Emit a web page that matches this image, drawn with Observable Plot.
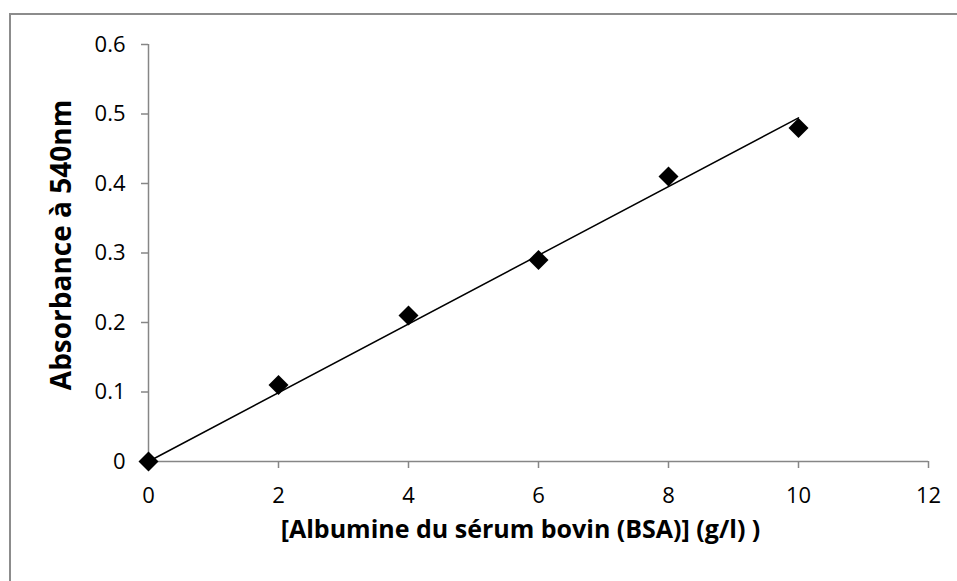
<!DOCTYPE html>
<html>
<head>
<meta charset="utf-8">
<script src="https://cdn.jsdelivr.net/npm/d3@7"></script>
<script src="https://cdn.jsdelivr.net/npm/@observablehq/plot@0.6"></script>
<style>
  html, body { margin: 0; padding: 0; background: white; }
  #wrap { position: relative; width: 957px; height: 581px; overflow: hidden; }
  #border { position: absolute; left: 9px; top: 13px; width: 2000px; height: 2000px;
            border-left: 2px solid #8c8c8c; border-top: 2px solid #8c8c8c; pointer-events: none; z-index: 2; }
  #chart { position: absolute; left: 0; top: 0; }
</style>
</head>
<body>
<div id="wrap"><div id="chart"></div><div id="border"></div></div>
<script>
// Data
const concentration = [0, 2, 4, 6, 8, 10];          // g/l
const absorbance    = [0, 0.11, 0.21, 0.29, 0.41, 0.48];
const xTicks = [0, 2, 4, 6, 8, 10, 12];
const yTicks = [0, 0.1, 0.2, 0.3, 0.4, 0.5, 0.6];
const xTitle = "[Albumine du sérum bovin (BSA)] (g/l) )";
const yTitle = "Absorbance à 540nm";

const points = concentration.map((c, i) => ({x: c, y: absorbance[i]}));

// Linear trendline through the origin (least squares), from the data
const sxy = d3.sum(points, d => d.x * d.y);
const sxx = d3.sum(points, d => d.x * d.x);
const slope = sxy / sxx;
const xMin = d3.min(concentration), xMax = d3.max(concentration);
const trend = [{x: xMin, y: slope * xMin}, {x: xMax, y: slope * xMax}];

const axisGray = "#868686";
const font = "'Open Sans', 'DejaVu Sans', sans-serif";

const chart = Plot.plot({
  width: 957,
  height: 581,
  marginLeft: 148,
  marginRight: 29,
  marginTop: 44,
  marginBottom: 120,
  style: {fontFamily: font, fontSize: "22px", color: "black", background: "white"},
  x: {domain: [0, 12]},
  y: {domain: [0, 0.6]},
  marks: [
    Plot.axisX({ticks: xTicks, tickSize: 7, tickPadding: 19, stroke: axisGray, fill: "black", strokeWidth: 1.5, label: null, fontSize: 22}),
    Plot.axisY({ticks: yTicks, tickSize: 7, tickPadding: 16, stroke: axisGray, fill: "black", strokeWidth: 1.5, label: null, fontSize: 22, tickFormat: d => String(d)}),
    Plot.ruleY([0], {stroke: axisGray, strokeWidth: 1.5}),
    Plot.ruleX([0], {stroke: axisGray, strokeWidth: 1.5}),
    Plot.line(trend, {x: "x", y: "y", stroke: "black", strokeWidth: 1.5}),
    Plot.dot(points, {x: "x", y: "y", symbol: "diamond2", r: 9, fill: "black", stroke: "none"}),
    Plot.text([xTitle], {frameAnchor: "bottom", lineAnchor: "middle", textAnchor: "middle", dx: -18, dy: 68, text: d => d, fontWeight: "bold", fontSize: 25, fill: "black"}),
    Plot.text([yTitle], {frameAnchor: "left", textAnchor: "middle", lineAnchor: "middle", dx: -86, dy: -8, rotate: -90, text: d => d, fontWeight: "bold", fontSize: 28, fill: "black"})
  ]
});
document.getElementById("chart").appendChild(chart);
</script>
</body>
</html>
